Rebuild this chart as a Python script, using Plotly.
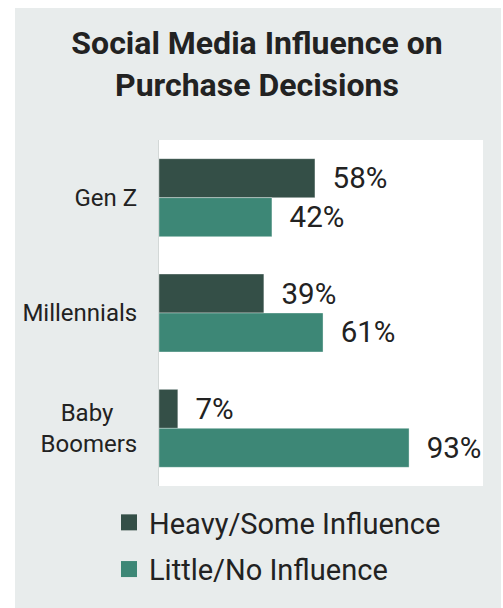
import plotly.graph_objects as go

# Survey results by generation (percent of respondents)
generations = ["Gen Z", "Millennials", "Baby Boomers"]
tick_labels = ["Gen Z", "Millennials", "Baby\u00a0\u00a0\u00a0\u00a0<br>Boomers"]
heavy_some = [58, 39, 7]
little_none = [42, 61, 93]
series_names = ["Heavy/Some Influence", "Little/No Influence"]

DARK = "#344f47"
TEAL = "#3d8776"
PANEL = "#e8ecec"
INK = "#222222"
FONT = "Roboto"

fig = go.Figure()
for name, values, color in [
    (series_names[0], heavy_some, DARK),
    (series_names[1], little_none, TEAL),
]:
    fig.add_trace(go.Bar(
        y=generations,
        x=values,
        name=name,
        legendgroup=name,
        showlegend=False,
        orientation="h",
        marker=dict(color=color, line=dict(color="rgba(255,255,255,0.35)", width=1)),
        text=[f"  {v}%" for v in values],
        textposition="outside",
        textfont=dict(family=FONT, size=29.5, color=INK),
        constraintext="none",
        cliponaxis=False,
        hoverinfo="skip",
    ))
    # Legend entry with a larger square swatch
    fig.add_trace(go.Scatter(
        x=[None], y=[None],
        mode="markers",
        name=name,
        legendgroup=name,
        marker=dict(symbol="square", size=16, color=color),
        hoverinfo="skip",
    ))

# Grey card behind everything, white plotting panel on top of it
fig.add_shape(type="rect", xref="paper", yref="paper",
              x0=(15 - 159) / 324, x1=(501 - 159) / 324,
              y0=(486 - 620) / 346, y1=(486 - 8) / 346,
              fillcolor=PANEL, line=dict(width=0), layer="below")
fig.add_shape(type="rect", xref="paper", yref="paper",
              x0=0, x1=1, y0=0, y1=1,
              fillcolor="white", line=dict(width=0), layer="below")

fig.update_layout(
    width=503,
    height=608,
    margin=dict(l=159, r=20, t=140, b=122),
    paper_bgcolor="white",
    plot_bgcolor="rgba(0,0,0,0)",
    barmode="group",
    bargap=0.324,
    bargroupgap=0,
    font=dict(family=FONT, color=INK),
    title=dict(
        text="Social Media Influence on<br>Purchase Decisions",
        font=dict(family=FONT, size=32, color=INK, weight=700),
        x=257 / 503, xref="container", xanchor="center",
        y=1 - 54 / 608, yref="container", yanchor="top",
    ),
    xaxis=dict(range=[0, 120.5], visible=False, fixedrange=True),
    yaxis=dict(
        autorange="reversed",
        tickvals=generations,
        ticktext=tick_labels,
        tickfont=dict(family=FONT, size=24, color=INK),
        ticks="",
        ticklabelstandoff=16,
        showline=True,
        linecolor="#d3d8d7",
        linewidth=1,
        showgrid=False,
        zeroline=False,
        fixedrange=True,
    ),
    legend=dict(
        orientation="v",
        x=(109 - 159) / 324, xanchor="left",
        y=(486 - 497) / 346, yanchor="top",
        bgcolor="rgba(0,0,0,0)",
        font=dict(family=FONT, size=29, color=INK),
        traceorder="grouped",
        tracegroupgap=6,
    ),
    showlegend=True,
)

fig.write_html("out.html")
